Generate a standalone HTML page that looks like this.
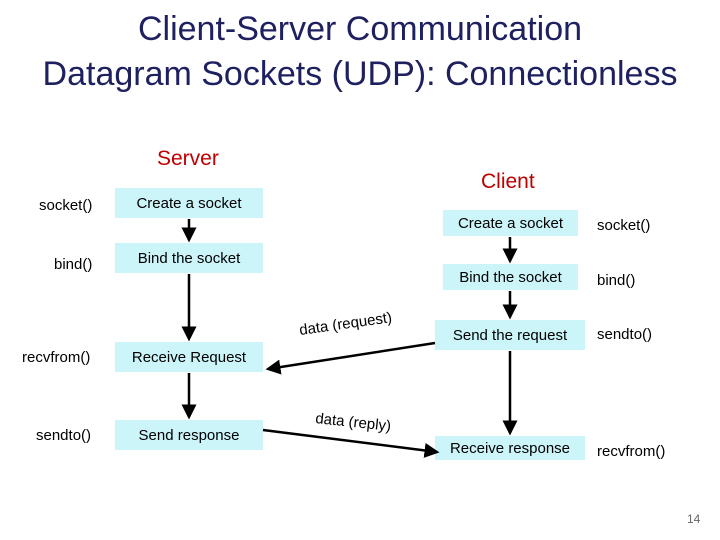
<!DOCTYPE html>
<html><head><meta charset="utf-8"><style>
body{margin:0;width:720px;height:540px;background:#fff;position:relative;overflow:hidden;font-family:"Liberation Sans",sans-serif}
.t{position:absolute;left:0;width:720px;text-align:center;color:#1f2060;font-size:34px}
.b{position:absolute;background:#ccf5fa;font-size:15px;color:#000;text-align:center;box-sizing:border-box;padding-top:2px}
.l{position:absolute;font-size:15px;color:#000}
.r{position:absolute;color:#c00000;font-size:21px}
</style></head><body>
<div class="t" style="top:10px">Client-Server Communication</div>
<div class="t" style="top:55px">Datagram Sockets (UDP): Connectionless</div>
<div class="r" style="left:157px;top:147px">Server</div>
<div class="r" style="left:481px;top:170px">Client</div>

<div class="l" style="left:39px;top:197px">socket()</div>
<div class="l" style="left:54px;top:256px">bind()</div>
<div class="l" style="left:22px;top:349px">recvfrom()</div>
<div class="l" style="left:36px;top:427px">sendto()</div>

<div class="b" style="left:115px;top:188px;width:148px;height:30px;line-height:28px">Create a socket</div>
<div class="b" style="left:115px;top:243px;width:148px;height:30px;line-height:28px">Bind the socket</div>
<div class="b" style="left:115px;top:342px;width:148px;height:30px;line-height:28px">Receive Request</div>
<div class="b" style="left:115px;top:420px;width:148px;height:30px;line-height:28px">Send response</div>

<div class="b" style="left:443px;top:210px;width:135px;height:26px;line-height:24px">Create a socket</div>
<div class="b" style="left:443px;top:264px;width:135px;height:26px;line-height:24px">Bind the socket</div>
<div class="b" style="left:435px;top:320px;width:150px;height:30px;line-height:28px">Send the request</div>
<div class="b" style="left:435px;top:436px;width:150px;height:24px;line-height:22px">Receive response</div>

<div class="l" style="left:597px;top:217px">socket()</div>
<div class="l" style="left:597px;top:272px">bind()</div>
<div class="l" style="left:597px;top:326px">sendto()</div>
<div class="l" style="left:597px;top:443px">recvfrom()</div>

<svg width="720" height="540" style="position:absolute;left:0;top:0">
<defs><marker id="a" markerWidth="6" markerHeight="6" refX="5" refY="3" orient="auto" markerUnits="strokeWidth"><path d="M0,0 L6,3 L0,6z" fill="#000"/></marker></defs>
<g stroke="#000" stroke-width="2.5" fill="none">
<line x1="189" y1="219" x2="189" y2="240" marker-end="url(#a)"/>
<line x1="189" y1="274" x2="189" y2="339" marker-end="url(#a)"/>
<line x1="189" y1="373" x2="189" y2="417" marker-end="url(#a)"/>
<line x1="510" y1="237" x2="510" y2="261" marker-end="url(#a)"/>
<line x1="510" y1="291" x2="510" y2="317" marker-end="url(#a)"/>
<line x1="510" y1="351" x2="510" y2="433" marker-end="url(#a)"/>
<line x1="435" y1="343" x2="268" y2="369" marker-end="url(#a)"/>
<line x1="263" y1="430" x2="437" y2="452" marker-end="url(#a)"/>
</g>
<text x="300" y="335" font-family="Liberation Sans,sans-serif" font-size="15" transform="rotate(-8 300 335)">data (request)</text>
<text x="315" y="423" font-family="Liberation Sans,sans-serif" font-size="15" transform="rotate(6 315 423)">data (reply)</text>
</svg>
<div style="position:absolute;left:687px;top:512px;font-size:12px;color:#666">14</div>
</body></html>
